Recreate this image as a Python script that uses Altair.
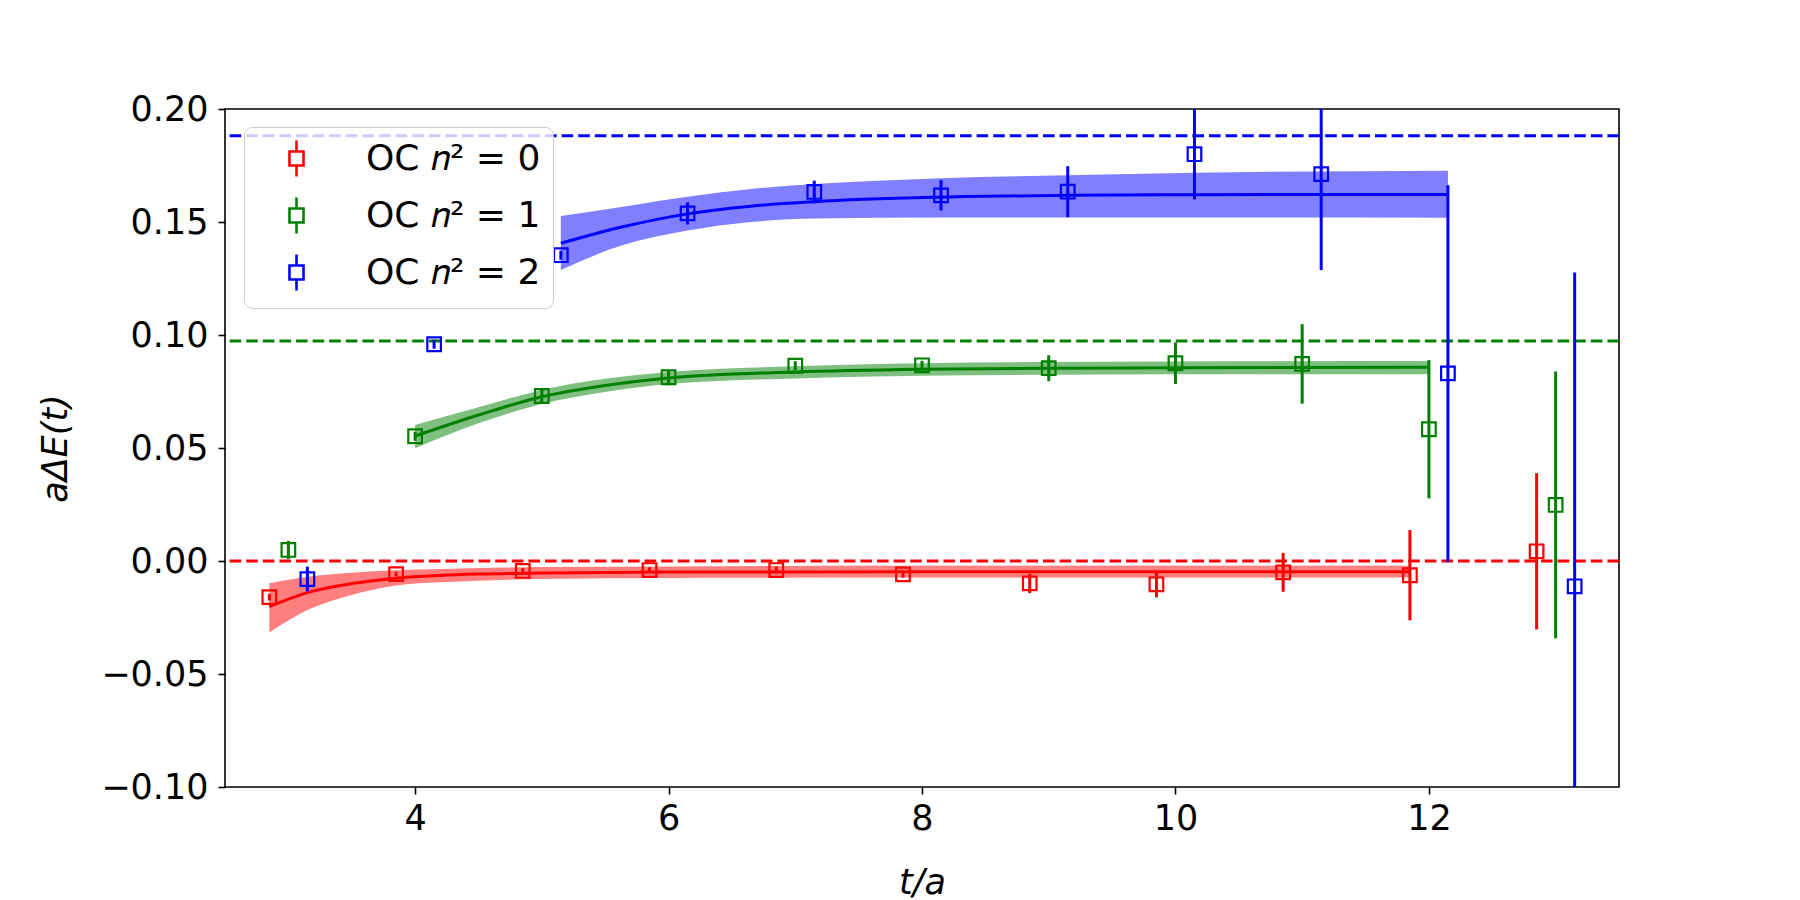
import altair as alt
import pandas as pd

# ---------------- data ----------------
SERIES = ["OC 𝑛² = 0", "OC 𝑛² = 1", "OC 𝑛² = 2"]
COLORS = ["#ff0000", "#008000", "#0000ff"]

# measured points (t/a, aΔE, error)
RED_T = [2.85, 3.85, 4.85, 5.85, 6.85, 7.85, 8.85, 9.85, 10.85, 11.85, 12.85]
RED_Y = [-0.0160, -0.0058, -0.0044, -0.0040, -0.0040, -0.0059, -0.0099, -0.0103, -0.0050, -0.0063, 0.0043]
RED_ERR = [0.0015, 0.0010, 0.0012, 0.0012, 0.0015, 0.0015, 0.0043, 0.0058, 0.0086, 0.0200, 0.0346]

GREEN_T = [3, 4, 5, 6, 7, 8, 9, 10, 11, 12, 13]
GREEN_Y = [0.0049, 0.0552, 0.0730, 0.0813, 0.0864, 0.0866, 0.0853, 0.0875, 0.0872, 0.0583, 0.0248]
GREEN_ERR = [0.0040, 0.0020, 0.0030, 0.0035, 0.0020, 0.0020, 0.0057, 0.0092, 0.0176, 0.0306, 0.0590]

BLUE_T = [3.15, 4.15, 5.15, 6.15, 7.15, 8.15, 9.15, 10.15, 11.15, 12.15, 13.15]
BLUE_Y = [-0.0080, 0.0959, 0.1353, 0.1538, 0.1633, 0.1618, 0.1634, 0.1800, 0.1712, 0.0830, -0.0112]
BLUE_ERR = [0.0055, 0.0020, 0.0020, 0.0049, 0.0050, 0.0067, 0.0113, 0.0200, 0.0425, 0.0833, 0.1388]

# fit curves with their bands
RED_FIT_T = [2.85, 3.15, 3.5, 3.85, 4.2, 4.5, 5.0, 6.0, 8.0, 10.0, 11.85]
RED_FIT_C = [-0.0202, -0.0140, -0.0100, -0.0076, -0.0064, -0.0058, -0.0053, -0.0049, -0.0048, -0.0048, -0.0048]
RED_FIT_LO = [-0.0316, -0.0217, -0.0150, -0.0108, -0.0094, -0.0087, -0.0080, -0.0075, -0.0073, -0.0073, -0.0073]
RED_FIT_HI = [-0.0099, -0.0070, -0.0052, -0.0041, -0.0035, -0.0031, -0.0027, -0.0024, -0.0021, -0.0021, -0.0021]

GREEN_FIT_T = [4.0, 4.5, 5.0, 5.5, 6.0, 7.0, 8.0, 9.0, 10.0, 12.0]
GREEN_FIT_C = [0.0553, 0.0646, 0.0727, 0.0777, 0.0810, 0.0836, 0.0848, 0.0853, 0.0855, 0.0857]
GREEN_FIT_LO = [0.0499, 0.0609, 0.0695, 0.0748, 0.0783, 0.0808, 0.0820, 0.0824, 0.0826, 0.0826]
GREEN_FIT_HI = [0.0602, 0.0680, 0.0757, 0.0806, 0.0836, 0.0862, 0.0875, 0.0880, 0.0883, 0.0885]

BLUE_FIT_T = [5.15, 5.64, 6.15, 6.65, 7.15, 8.15, 9.15, 10.15, 12.15]
BLUE_FIT_C = [0.1406, 0.1479, 0.1536, 0.1570, 0.1590, 0.1610, 0.1618, 0.1621, 0.1622]
BLUE_FIT_LO = [0.1288, 0.1398, 0.1462, 0.1500, 0.1515, 0.1520, 0.1520, 0.1520, 0.1519]
BLUE_FIT_HI = [0.1527, 0.1568, 0.1612, 0.1646, 0.1668, 0.1694, 0.1707, 0.1718, 0.1727]

# horizontal reference levels (dashed)
LEVELS = [0.0, 0.0974, 0.1882]

X_TICKS = [4, 6, 8, 10, 12]
Y_TICKS = [-0.10, -0.05, 0.00, 0.05, 0.10, 0.15, 0.20]

# ---------------- tables ----------------
PT = [(RED_T, RED_Y, RED_ERR), (GREEN_T, GREEN_Y, GREEN_ERR), (BLUE_T, BLUE_Y, BLUE_ERR)]
FT = [(RED_FIT_T, RED_FIT_C, RED_FIT_LO, RED_FIT_HI),
      (GREEN_FIT_T, GREEN_FIT_C, GREEN_FIT_LO, GREEN_FIT_HI),
      (BLUE_FIT_T, BLUE_FIT_C, BLUE_FIT_LO, BLUE_FIT_HI)]

point_tables = [pd.DataFrame({"series": s, "t": p[0], "y": p[1], "err": p[2]})
                for s, p in zip(SERIES, PT)]
points = pd.concat(point_tables, ignore_index=True)
fit_tables = [pd.DataFrame({"series": s, "t": f[0], "c": f[1], "lo": f[2], "hi": f[3]})
              for s, f in zip(SERIES, FT)]

# ---------------- style ----------------
FONT = "DejaVu Sans"
FS = 35

xscale = alt.Scale(domain=[2.5, 13.5], nice=False, zero=False)
yscale = alt.Scale(domain=[-0.10, 0.20], nice=False, zero=False)
cscale = alt.Scale(domain=SERIES, range=COLORS)

x_axis = alt.Axis(values=X_TICKS, format="d", title="t/a", grid=False, domain=False,
                  labelFont=FONT, labelFontSize=FS, labelColor="black", labelPadding=7,
                  tickSize=7, tickWidth=1.6, tickColor="black",
                  titleFont=FONT, titleFontSize=FS, titleFontStyle="italic",
                  titleFontWeight="normal", titleColor="black",
                  titleX=697, titleY=95, titleBaseline="middle", titleAlign="center")
y_axis = alt.Axis(values=Y_TICKS, format=".2f", title="aΔE(t)", grid=False, domain=False,
                  labelFont=FONT, labelFontSize=FS, labelColor="black", labelPadding=10,
                  tickSize=7, tickWidth=1.6, tickColor="black",
                  titleFont=FONT, titleFontSize=FS, titleFontStyle="italic",
                  titleFontWeight="normal", titleColor="black",
                  titleX=-170, titleY=339, titleAngle=270, titleBaseline="middle",
                  titleAlign="center")

LEGEND_SYMBOL = "M-0.39,-0.39H0.39V0.39H-0.39Z M0,-1V-0.39 M0,0.39V1"
legend = alt.Legend(title=None, orient="none", legendX=19, legendY=18,
                    symbolType=LEGEND_SYMBOL, symbolSize=1296, symbolStrokeWidth=2.6,
                    symbolFillColor="transparent", symbolOffset=21,
                    labelOffset=50, labelFont=FONT, labelFontSize=36, labelColor="black",
                    labelLimit=500, rowPadding=10, padding=12,
                    fillColor="rgba(255,255,255,0.8)", strokeColor="#cccccc",
                    cornerRadius=8)

# ---------------- layers ----------------
bands, lines, hlines, errbars = [], [], [], []
for i, (s, col) in enumerate(zip(SERIES, COLORS)):
    ft = alt.Chart(fit_tables[i])
    if i == 0:
        xenc = alt.X("t:Q", scale=xscale, axis=x_axis)
        yenc = alt.Y("lo:Q", scale=yscale, axis=y_axis)
    else:
        xenc = alt.X("t:Q")
        yenc = alt.Y("lo:Q")
    bands.append(ft.mark_area(fill=col, fillOpacity=0.5, interpolate="monotone",
                              clip=True).encode(x=xenc, y=yenc, y2="hi:Q"))
    lines.append(ft.mark_line(stroke=col, strokeWidth=3, interpolate="monotone",
                              clip=True).encode(x="t:Q", y="c:Q"))
    hlines.append(alt.Chart(pd.DataFrame({"level": [LEVELS[i]]})).mark_rule(
        stroke=col, strokeDash=[11.6, 5], strokeWidth=3).encode(y="level:Q"))
    errbars.append(alt.Chart(point_tables[i]).transform_calculate(
        lo="datum.y - datum.err", hi="datum.y + datum.err"
    ).mark_rule(stroke=col, strokeWidth=3, clip=True).encode(
        x="t:Q", y="lo:Q", y2="hi:Q"))

marks = alt.Chart(points).mark_point(shape="square", filled=False, size=185,
                                     strokeWidth=2.2, opacity=1, clip=True).encode(
    x="t:Q", y="y:Q",
    color=alt.Color("series:N", scale=cscale, legend=legend),
)

chart = alt.layer(*bands, *lines, *hlines, *errbars, marks).properties(
    width=1394, height=678,
    autosize=alt.AutoSizeParams(type="none"),
    padding={"left": 225, "top": 109, "right": 181, "bottom": 113},
    background="white",
).configure_view(stroke="black", strokeWidth=1.6)

chart.save("out.html", embed_options={"renderer": "svg", "actions": False})
